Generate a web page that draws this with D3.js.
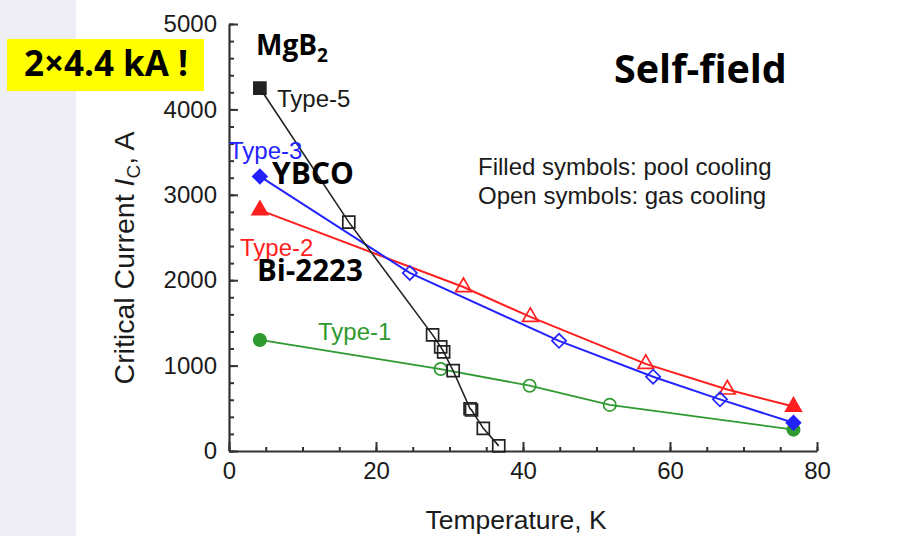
<!DOCTYPE html>
<html><head><meta charset="utf-8">
<script src="https://cdn.jsdelivr.net/npm/d3@7"></script>
<style>body{margin:0;background:#fff}svg{display:block}</style>
</head><body><svg id="c" width="902" height="536"></svg>
<script>
// ---- data ----
const type5T = [4.2, 16.3, 27.7, 28.8, 29.2, 30.5, 32.8, 33.0, 34.6, 36.7];
const type5I = [4250, 2680, 1360, 1220, 1160, 940, 495, 480, 265, 60];
const type5Filled = [1, 0, 0, 0, 0, 0, 0, 0, 0, 0];
const type3T = [4.2, 24.6, 44.9, 57.7, 66.8, 76.8];
const type3I = [3215, 2085, 1290, 870, 605, 330];
const type3Filled = [1, 0, 0, 0, 0, 1];
const type2T = [4.2, 31.9, 41.0, 56.7, 67.8, 76.8];
const type2I = [2820, 1920, 1570, 1020, 720, 520];
const type2Filled = [1, 0, 0, 0, 0, 1];
const type1T = [4.2, 28.8, 40.9, 51.8, 76.8];
const type1I = [1300, 960, 765, 540, 250];
const type1Filled = [1, 0, 0, 0, 1];
const xTicks = [0, 20, 40, 60, 80];
const yTicks = [0, 1000, 2000, 3000, 4000, 5000];

const svg = d3.select("#c");
const FONT = "'Liberation Sans', Arial, sans-serif";
const BOLD = "'Open Sans', sans-serif";

svg.append("rect").attr("x",0).attr("y",0).attr("width",902).attr("height",536).attr("fill","#fff");
svg.append("rect").attr("x",0).attr("y",0).attr("width",76).attr("height",536).attr("fill","#efeef4");

const x = d3.scaleLinear().domain([0, 80]).range([229, 817]);
const y = d3.scaleLinear().domain([0, 5000]).range([451, 24]);

// minor ticks
const gxm = svg.append("g").attr("transform","translate(0,451)")
  .call(d3.axisBottom(x).tickValues(d3.range(0, 81, 5)).tickSizeInner(-4).tickSizeOuter(0).tickFormat(""));
const gym = svg.append("g").attr("transform","translate(229,0)")
  .call(d3.axisLeft(y).tickValues(d3.range(0, 5001, 200)).tickSizeInner(-5).tickSizeOuter(0).tickFormat(""));
[gxm, gym].forEach(g => { g.select(".domain").remove(); g.selectAll("line").attr("stroke","#333").attr("stroke-width",2); });

const gx = svg.append("g").attr("transform","translate(0,451)")
  .call(d3.axisBottom(x).tickValues(xTicks).tickSizeInner(-9).tickSizeOuter(0).tickPadding(11).tickFormat(d3.format("d")));
const gy = svg.append("g").attr("transform","translate(229,0)")
  .call(d3.axisLeft(y).tickValues(yTicks).tickSizeInner(-9).tickSizeOuter(0).tickPadding(12).tickFormat(d3.format("d")));
[gx, gy].forEach(g => {
  g.select(".domain").attr("stroke","#333").attr("stroke-width",2.2);
  g.selectAll("line").attr("stroke","#333").attr("stroke-width",2);
  g.selectAll("text").attr("font-family",FONT).attr("font-size",24).attr("fill","#1a1a1a");
});

// axis titles
svg.append("text").attr("x", 516).attr("y", 529).attr("text-anchor","middle")
  .attr("font-family",FONT).attr("font-size",26.5).attr("fill","#1a1a1a").text("Temperature, K");
const yt = svg.append("text").attr("transform","translate(134,258) rotate(-90)").attr("text-anchor","middle")
  .attr("font-family",FONT).attr("font-size",28.5).attr("fill","#1a1a1a");
yt.append("tspan").text("Critical Current ");
yt.append("tspan").attr("font-style","italic").text("I");
yt.append("tspan").attr("font-size",19).attr("dy",6).text("C");
yt.append("tspan").attr("dy",-6).text(", A");

// series
const series = [
  {T: type1T, I: type1I, F: type1Filled, color: "#2f9a2f", sym: "circle", lw: 1.8},
  {T: type2T, I: type2I, F: type2Filled, color: "#ff1f1f", sym: "triangle", lw: 2},
  {T: type3T, I: type3I, F: type3Filled, color: "#2323ff", sym: "diamond", lw: 2},
  {T: type5T, I: type5I, F: type5Filled, color: "#222", sym: "square", lw: 1.6}
];
const line = d3.line().x(d => x(d[0])).y(d => y(d[1])).curve(d3.curveLinear);
series.forEach(s => {
  const pts = s.T.map((t, i) => [t, s.I[i], s.F[i]]);
  svg.append("path").datum(pts).attr("d", line).attr("fill","none")
    .attr("stroke", s.color).attr("stroke-width", s.lw);
});
series.forEach(s => {
  const pts = s.T.map((t, i) => [t, s.I[i], s.F[i]]);
  let type, size, rot = 0;
  if (s.sym === "circle") { type = d3.symbolCircle; size = 120; }
  if (s.sym === "triangle") { type = d3.symbolTriangle; size = 105; }
  if (s.sym === "diamond") { type = d3.symbolSquare; size = 100; rot = 45; }
  if (s.sym === "square") { type = d3.symbolSquare; size = 144; }
  svg.append("g").selectAll("path").data(pts).join("path")
    .attr("d", d3.symbol().type(type).size(size))
    .attr("transform", d => `translate(${x(d[0])},${y(d[1])}) rotate(${rot})`)
    .attr("fill", d => d[2] ? s.color : "none")
    .attr("stroke", s.color).attr("stroke-width", 1.7);
});

// series labels
const labels = [
  {t: "Type-5", x: 277, y: 107, c: "#1a1a1a"},
  {t: "Type-3", x: 229, y: 159, c: "#2323ff"},
  {t: "Type-2", x: 240, y: 256, c: "#ff1f1f"},
  {t: "Type-1", x: 318, y: 340, c: "#2f9a2f"}
];
svg.append("g").selectAll("text").data(labels).join("text")
  .attr("x", d => d.x).attr("y", d => d.y).attr("fill", d => d.c)
  .attr("font-family", FONT).attr("font-size", 24).text(d => d.t);

svg.append("text").attr("x",478).attr("y",175).attr("font-family",FONT).attr("font-size",24)
  .attr("fill","#1a1a1a").text("Filled symbols: pool cooling");
svg.append("text").attr("x",478).attr("y",204).attr("font-family",FONT).attr("font-size",24)
  .attr("fill","#1a1a1a").text("Open symbols: gas cooling");

// material labels
const mg = svg.append("text").attr("x",256).attr("y",55).attr("font-family",BOLD).attr("font-weight",700)
  .attr("font-size",28).attr("fill","#000");
mg.append("tspan").text("MgB");
mg.append("tspan").attr("font-size",19).attr("dy",7).text("2");
svg.append("text").attr("x",272).attr("y",184).attr("font-family",BOLD).attr("font-weight",700)
  .attr("font-size",30).attr("fill","#000").text("YBCO");
svg.append("text").attr("x",257).attr("y",281).attr("font-family",BOLD).attr("font-weight",700)
  .attr("font-size",29.5).attr("fill","#000").text("Bi-2223");
svg.append("text").attr("x",614).attr("y",83).attr("font-family",BOLD).attr("font-weight",700)
  .attr("font-size",39.5).attr("fill","#000").text("Self-field");

svg.append("rect").attr("x",7).attr("y",39).attr("width",197).attr("height",52).attr("fill","#ffff00");
svg.append("text").attr("x",106).attr("y",76).attr("text-anchor","middle").attr("font-family",BOLD)
  .attr("font-weight",700).attr("font-size",35).attr("fill","#000").text("2×4.4 kA !");
</script></body></html>
